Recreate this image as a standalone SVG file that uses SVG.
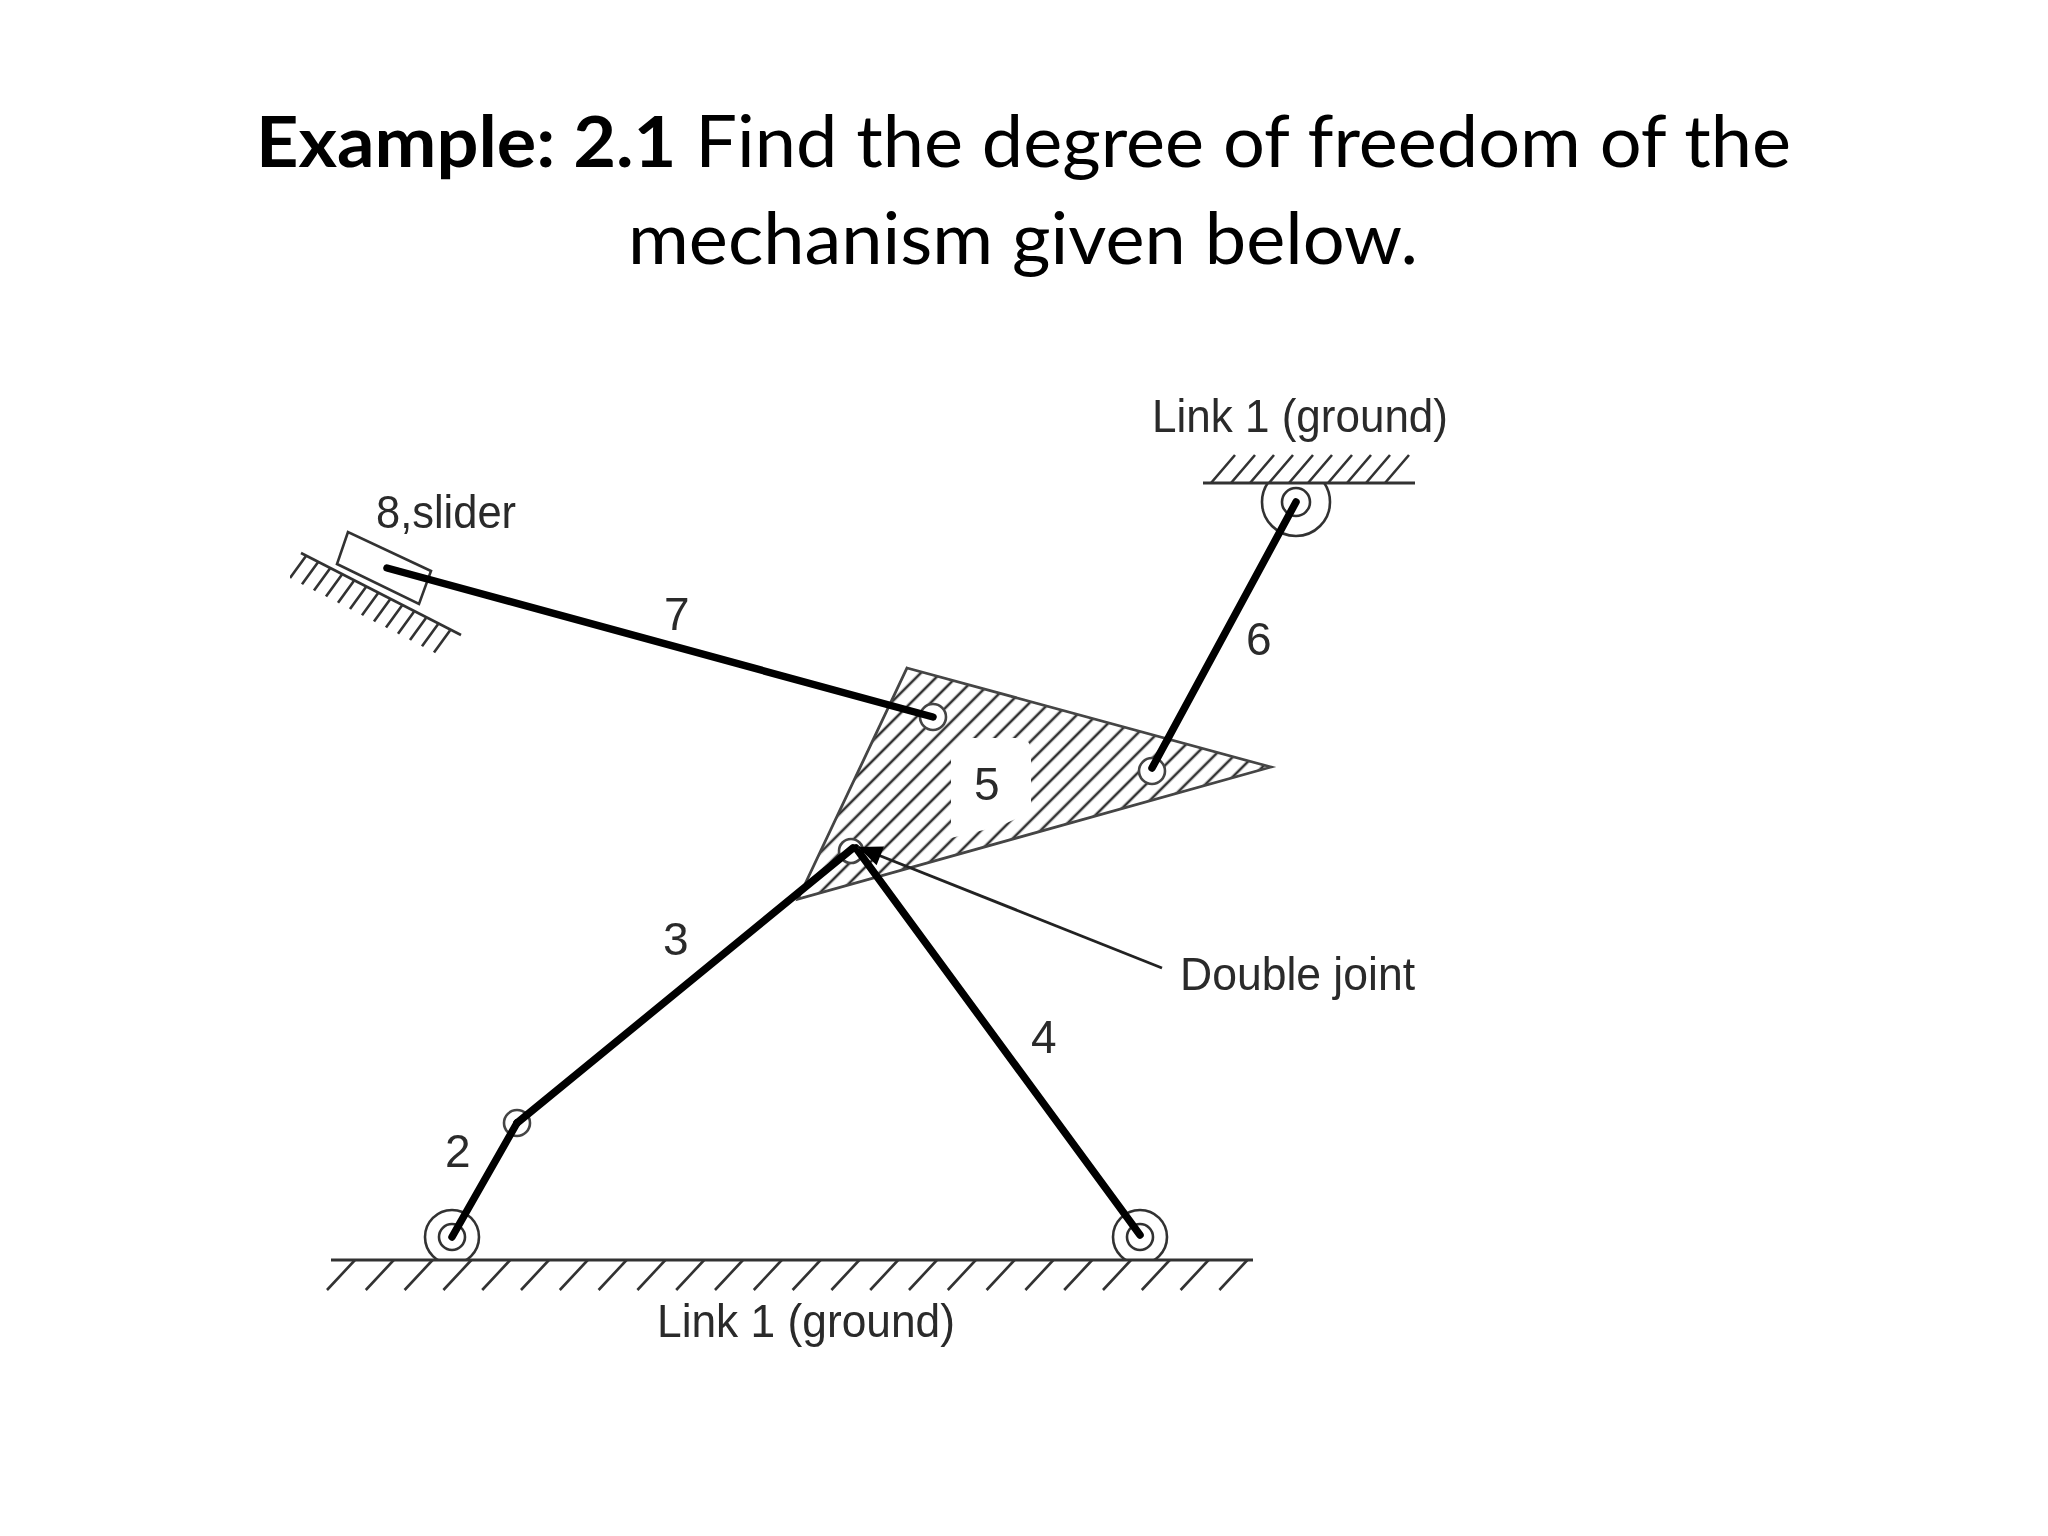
<svg xmlns="http://www.w3.org/2000/svg" width="2048" height="1536" viewBox="0 0 2048 1536">
<style>
.title{font-family:"Lato","Liberation Sans",sans-serif;font-size:71px;fill:#000}
.lbl{font-family:"Liberation Sans","DejaVu Sans",sans-serif;font-size:46px;fill:#2a2a2a}
.thin{fill:none;stroke:#333;stroke-width:2.6}
.hatch{fill:none;stroke:#333;stroke-width:2.6}
.link{fill:none;stroke:#000;stroke-width:7.5;stroke-linecap:round}
.leader{fill:none;stroke:#222;stroke-width:2.8}
.joint{fill:#fff;stroke:#444;stroke-width:2.6}
.ring{fill:none;stroke:#333;stroke-width:2.6}
</style>
<defs>
<filter id="soft" x="0" y="0" width="100%" height="100%"><feGaussianBlur stdDeviation="0.7"/></filter>
<pattern id="hatch5" width="14" height="14" patternUnits="userSpaceOnUse" patternTransform="rotate(-45)">
<line x1="0" y1="7" x2="14" y2="7" stroke="#333" stroke-width="2.6"/>
</pattern>
<marker id="head" markerUnits="userSpaceOnUse" markerWidth="30" markerHeight="26" refX="0" refY="13" orient="auto">
<path d="M0 13L24 3L24 23Z" fill="#000"/>
</marker>
<clipPath id="belowTop"><rect x="1200" y="483" width="220" height="60"/></clipPath>
<clipPath id="aboveBase"><rect x="400" y="1190" width="800" height="70"/></clipPath>
</defs>
<rect width="2048" height="1536" fill="#fff"/>

<g id="title">
<text class="title" x="256" y="167" textLength="1535" lengthAdjust="spacingAndGlyphs"><tspan font-weight="700">Example: 2.1</tspan> Find the degree of freedom of the</text>
<text class="title" x="628" y="264" textLength="790" lengthAdjust="spacingAndGlyphs">mechanism given below.</text>
</g>

<g id="diagram" filter="url(#soft)">
<g id="ground-bottom">
<line class="thin" x1="331" y1="1260" x2="1253" y2="1260" style="stroke-width:3"/>
<path class="hatch" d="M355 1260l-28 30M393.8 1260l-28 30M432.6 1260l-28 30M471.4 1260l-28 30M510.2 1260l-28 30M549 1260l-28 30M587.8 1260l-28 30M626.6 1260l-28 30M665.4 1260l-28 30M704.2 1260l-28 30M743 1260l-28 30M781.8 1260l-28 30M820.6 1260l-28 30M859.4 1260l-28 30M898.2 1260l-28 30M937 1260l-28 30M975.8 1260l-28 30M1014.6 1260l-28 30M1053.4 1260l-28 30M1092.2 1260l-28 30M1131 1260l-28 30M1169.8 1260l-28 30M1208.6 1260l-28 30M1247.4 1260l-28 30"/>
<text class="lbl" x="657" y="1337" textLength="298" lengthAdjust="spacingAndGlyphs">Link 1 (ground)</text>
</g>

<g id="ground-top">
<line class="thin" x1="1203" y1="483" x2="1415" y2="483" style="stroke-width:3"/>
<path class="hatch" d="M1235 455l-24 28M1255 455l-24 28M1274 455l-24 28M1293 455l-24 28M1313 455l-24 28M1332 455l-24 28M1352 455l-24 28M1371 455l-24 28M1390 455l-24 28M1409 455l-24 28"/>
<text class="lbl" x="1152" y="432" textLength="296" lengthAdjust="spacingAndGlyphs">Link 1 (ground)</text>
</g>

<g id="slider-8">
<path class="hatch" d="M301 553L461 635"/>
<path class="hatch" d="M306 556l-16 22M318 562.2l-16 22M330 568.4l-16 22M342 574.6l-16 22M354 580.8l-16 22M366 587l-16 22M378 593.2l-16 22M390 599.4l-16 22M402 605.6l-16 22M414 611.8l-16 22M426 618l-16 22M438 624.2l-16 22M450 630.4l-16 22"/>
<polygon class="thin" points="348,532 337,564 419,604 431,571"/>
<text class="lbl" x="376" y="528" textLength="140" lengthAdjust="spacingAndGlyphs">8,slider</text>
</g>

<g id="body-5">
<polygon points="907,668 1271,767 798,899" fill="url(#hatch5)" stroke="#444" stroke-width="2.8"/>
<path d="M951 752Q951 738 965 738L1018 738Q1031 738 1031 752L1031 812L1000 826L951 838Z" fill="#fff"/>
<text class="lbl" x="974" y="800">5</text>
</g>

<g id="pivot-left">
<circle class="ring" cx="452" cy="1237" r="27" clip-path="url(#aboveBase)"/>
<circle class="ring" cx="452" cy="1237" r="13"/>
</g>
<g id="pivot-right">
<circle class="ring" cx="1140" cy="1237" r="27" clip-path="url(#aboveBase)"/>
<circle class="ring" cx="1140" cy="1237" r="13"/>
</g>
<g id="pivot-top">
<circle class="ring" cx="1296" cy="502" r="34" clip-path="url(#belowTop)"/>
<circle class="ring" cx="1296" cy="502" r="14"/>
</g>
<g id="joint-2-3"><circle class="joint" cx="517" cy="1123" r="13"/></g>
<g id="joint-7-5"><circle class="joint" cx="933" cy="717" r="13"/></g>
<g id="joint-6-5"><circle class="joint" cx="1152" cy="771" r="13"/></g>
<g id="joint-double"><circle class="joint" cx="851" cy="851" r="12"/></g>

<g id="connectors">
<line class="link" x1="452" y1="1237" x2="517" y2="1123"/>
<line class="link" x1="517" y1="1123" x2="853" y2="848"/>
<line class="link" x1="1140" y1="1235" x2="856" y2="848"/>
<line class="link" x1="387" y1="568" x2="933" y2="717"/>
<line class="link" x1="1296" y1="502" x2="1152" y2="768"/>
<line class="leader" x1="858" y1="847" x2="1162" y2="968" marker-start="url(#head)"/>
</g>

<g id="labels">
<text class="lbl" x="664" y="630">7</text>
<text class="lbl" x="1246" y="655">6</text>
<text class="lbl" x="663" y="955">3</text>
<text class="lbl" x="1031" y="1053">4</text>
<text class="lbl" x="445" y="1167">2</text>
<text class="lbl" x="1180" y="990" textLength="235" lengthAdjust="spacingAndGlyphs">Double joint</text>
</g>
</g>
</svg>
